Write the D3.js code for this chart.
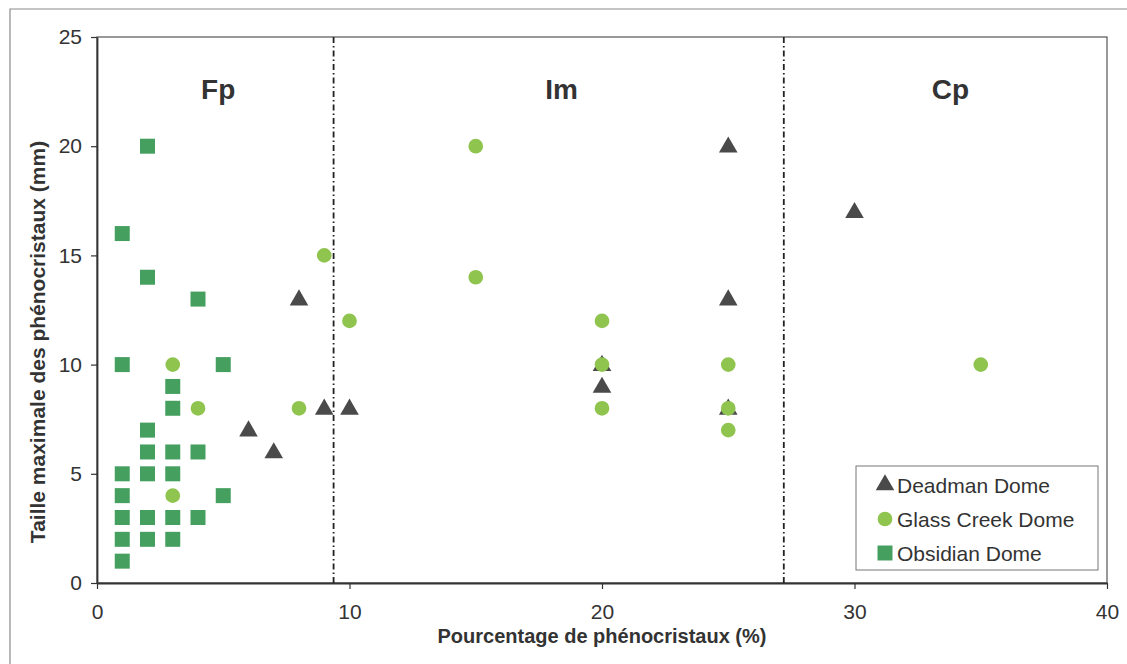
<!DOCTYPE html>
<html>
<head>
<meta charset="utf-8">
<script src="https://cdn.jsdelivr.net/npm/d3@7"></script>
<style>
  body { margin: 0; background: #fff; }
  svg { display: block; }
</style>
</head>
<body>
<div id="chart"></div>
<script>
// values
var deadmanX = [6, 7, 8, 9, 10, 20, 20, 25, 25, 25, 30];
var deadmanY = [7, 6, 13, 8, 8, 10, 9, 20, 13, 8, 17];

var glassX = [3, 3, 4, 8, 9, 10, 15, 15, 20, 20, 20, 25, 25, 25, 35];
var glassY = [10, 4, 8, 8, 15, 12, 20, 14, 12, 10, 8, 10, 8, 7, 10];

var obsidianX = [1, 1, 1, 1, 1, 1, 1, 2, 2, 2, 2, 2, 2, 2, 3, 3, 3, 3, 3, 3, 4, 4, 4, 5, 5];
var obsidianY = [16, 10, 5, 4, 3, 2, 1, 20, 14, 7, 6, 5, 3, 2, 9, 8, 6, 5, 3, 2, 13, 6, 3, 10, 4];

var seriesNames = ["Deadman Dome", "Glass Creek Dome", "Obsidian Dome"];
var xTicks = [0, 10, 20, 30, 40];
var yTicks = [0, 5, 10, 15, 20, 25];

// texture class boundaries (% phenocrysts) and their labels
var boundaries = [9.37, 27.2];
var zoneNames = ["Fp", "Im", "Cp"];
var zoneCenters = [4.8, 18.4, 33.8];

var width = 1127, height = 664;
var ink = "#333";
var colors = ["#4a4a4a", "#8fc44e", "#45a060"];

var x = d3.scaleLinear().domain([0, 40]).range([97, 1107]);
var y = d3.scaleLinear().domain([0, 25]).range([583, 37]);

var svg = d3.select("#chart").append("svg")
    .attr("width", width)
    .attr("height", height)
    .style("font-family", "Arial, 'Liberation Sans', sans-serif");

// outer figure frame (only top and left edges are inside the scan)
svg.append("path")
    .attr("d", "M10," + height + "V9H" + width)
    .attr("fill", "none")
    .attr("stroke", "#8a8a8a")
    .attr("stroke-width", 1.2);

// plot frame
svg.append("rect")
    .attr("x", x(0)).attr("y", y(25))
    .attr("width", x(40) - x(0)).attr("height", y(0) - y(25))
    .attr("fill", "none")
    .attr("stroke", "#555")
    .attr("stroke-width", 1.2);

// axes
var xAxis = svg.append("g")
    .attr("transform", "translate(0," + y(0) + ")")
    .call(d3.axisBottom(x).tickValues(xTicks).tickSizeInner(6).tickSizeOuter(0).tickPadding(15));
var yAxis = svg.append("g")
    .attr("transform", "translate(" + x(0) + ",0)")
    .call(d3.axisLeft(y).tickValues(yTicks).tickSizeInner(6).tickSizeOuter(0).tickPadding(9));

[xAxis, yAxis].forEach(function(a) {
    a.select(".domain").attr("stroke", "#333").attr("stroke-width", 1.8);
    a.selectAll(".tick line").attr("stroke", "#333").attr("stroke-width", 1.2);
    a.selectAll(".tick text")
        .attr("fill", ink)
        .style("font-size", "21px")
        .style("font-family", "Arial, 'Liberation Sans', sans-serif");
});

// dash-dot boundaries
svg.selectAll(".boundary")
    .data(boundaries)
    .enter().append("line")
    .attr("class", "boundary")
    .attr("x1", function(d) { return x(d); })
    .attr("x2", function(d) { return x(d); })
    .attr("y1", y(25))
    .attr("y2", y(0))
    .attr("stroke", "#222")
    .attr("stroke-width", 1.8)
    .attr("stroke-dasharray", "6,3,1.5,3");

// zone labels
svg.selectAll(".zone")
    .data(zoneNames)
    .enter().append("text")
    .attr("class", "zone")
    .attr("x", function(d, i) { return x(zoneCenters[i]); })
    .attr("y", y(22.15))
    .attr("text-anchor", "middle")
    .attr("fill", ink)
    .style("font-size", "28px")
    .style("font-weight", "bold")
    .text(function(d) { return d; });

function pts(xs, ys) {
    return xs.map(function(d, i) { return { x: d, y: ys[i] }; });
}

var tri = d3.symbol().type(d3.symbolTriangle).size(150);
var circ = d3.symbol().type(d3.symbolCircle).size(170);
var sq = d3.symbol().type(d3.symbolSquare).size(225);

// Deadman Dome
svg.append("g").selectAll("path")
    .data(pts(deadmanX, deadmanY))
    .enter().append("path")
    .attr("d", tri)
    .attr("transform", function(d) { return "translate(" + x(d.x) + "," + (y(d.y) + 1) + ")"; })
    .attr("fill", colors[0]);

// Glass Creek Dome
svg.append("g").selectAll("path")
    .data(pts(glassX, glassY))
    .enter().append("path")
    .attr("d", circ)
    .attr("transform", function(d) { return "translate(" + x(d.x) + "," + y(d.y) + ")"; })
    .attr("fill", colors[1]);

// Obsidian Dome
svg.append("g").selectAll("path")
    .data(pts(obsidianX, obsidianY))
    .enter().append("path")
    .attr("d", sq)
    .attr("transform", function(d) { return "translate(" + x(d.x) + "," + y(d.y) + ")"; })
    .attr("fill", colors[2]);

// axis titles
svg.append("text")
    .attr("x", 602)
    .attr("y", 643)
    .attr("text-anchor", "middle")
    .attr("fill", ink)
    .style("font-size", "20px")
    .style("font-weight", "bold")
    .text("Pourcentage de phénocristaux (%)");

svg.append("text")
    .attr("transform", "translate(45,342) rotate(-90)")
    .attr("text-anchor", "middle")
    .attr("fill", ink)
    .style("font-size", "21px")
    .style("font-weight", "bold")
    .text("Taille maximale des phénocristaux (mm)");

// legend
var legend = svg.append("g").attr("transform", "translate(856,466)");
legend.append("rect")
    .attr("width", 242).attr("height", 104)
    .attr("fill", "#fff")
    .attr("stroke", "#777")
    .attr("stroke-width", 1);

var symbols = [tri, circ, sq];
var item = legend.selectAll(".item")
    .data(seriesNames)
    .enter().append("g")
    .attr("class", "item")
    .attr("transform", function(d, i) { return "translate(0," + (19 + i * 34) + ")"; });

item.append("path")
    .attr("d", function(d, i) { return symbols[i](); })
    .attr("transform", "translate(29,0)")
    .attr("fill", function(d, i) { return colors[i]; });

item.append("text")
    .attr("x", 41)
    .attr("dy", "0.36em")
    .attr("fill", ink)
    .style("font-size", "21px")
    .text(function(d) { return d; });
</script>
</body>
</html>
